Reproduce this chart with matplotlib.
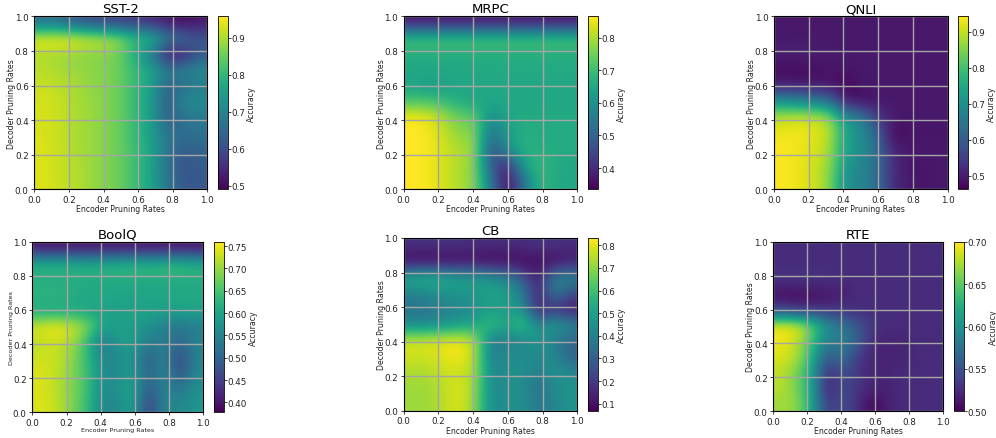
import numpy as np
import matplotlib
matplotlib.use("Agg")
import matplotlib.pyplot as plt

W, H = 996, 439

# accuracy grids, 11 x 11 cells filling the 0-1 box. rows run from the top of the plot down
sst2 = [
    [.66, .66, .62, .60, .58, .58, .56, .55, .52, .50, .52],
    [.95, .955, .955, .93, .92, .88, .82, .80, .70, .66, .62],
    [.90, .89, .88, .87, .87, .85, .76, .68, .50, .52, .62],
    [.91, .90, .89, .88, .87, .85, .81, .76, .70, .70, .72],
    [.92, .91, .90, .88, .87, .85, .80, .75, .62, .66, .68],
    [.93, .92, .90, .89, .87, .85, .80, .75, .62, .72, .72],
    [.93, .92, .90, .89, .87, .85, .80, .75, .62, .66, .68],
    [.93, .92, .90, .89, .87, .85, .80, .75, .67, .66, .67],
    [.935, .92, .90, .89, .87, .85, .81, .76, .67, .63, .64],
    [.935, .92, .91, .89, .87, .85, .81, .76, .66, .60, .63],
    [.935, .92, .91, .89, .87, .85, .81, .76, .67, .62, .62],
]
mrpc = [
    [.37, .37, .37, .37, .37, .37, .37, .37, .37, .37, .37],
    [.72, .72, .72, .72, .72, .72, .72, .72, .72, .72, .72],
    [.66, .66, .66, .66, .66, .66, .66, .66, .66, .66, .66],
    [.655, .655, .655, .655, .655, .66, .66, .66, .66, .66, .66],
    [.64, .62, .63, .65, .65, .65, .65, .65, .65, .65, .65],
    [.72, .72, .70, .66, .65, .65, .65, .65, .65, .65, .65],
    [.865, .85, .80, .75, .74, .58, .65, .66, .66, .66, .66],
    [.865, .86, .82, .77, .77, .52, .62, .67, .66, .66, .66],
    [.865, .86, .83, .80, .79, .45, .60, .68, .66, .66, .66],
    [.865, .86, .83, .80, .77, .48, .38, .62, .70, .66, .65],
    [.865, .86, .83, .80, .77, .55, .335, .52, .68, .66, .65],
]
qnli = [
    [.495, .495, .495, .495, .495, .495, .495, .495, .495, .495, .495],
    [.495, .495, .495, .495, .495, .495, .495, .495, .495, .495, .495],
    [.505, .505, .50, .50, .495, .495, .495, .495, .495, .495, .495],
    [.475, .475, .48, .485, .49, .495, .495, .495, .495, .495, .495],
    [.50, .50, .49, .49, .465, .49, .495, .495, .495, .495, .495],
    [.72, .70, .68, .65, .50, .48, .49, .495, .495, .495, .495],
    [.90, .91, .91, .88, .72, .68, .55, .50, .49, .495, .495],
    [.93, .94, .92, .90, .74, .70, .62, .465, .485, .49, .49],
    [.94, .93, .92, .88, .74, .70, .64, .51, .495, .495, .495],
    [.94, .93, .91, .87, .72, .68, .64, .52, .49, .49, .495],
    [.94, .93, .91, .86, .70, .68, .64, .52, .495, .49, .495],
]
boolq = [
    [.40, .40, .40, .40, .40, .40, .40, .40, .40, .40, .40],
    [.63, .63, .63, .62, .63, .63, .64, .63, .645, .645, .63],
    [.61, .61, .61, .61, .61, .61, .61, .61, .61, .61, .61],
    [.63, .63, .62, .61, .61, .60, .60, .60, .60, .61, .61],
    [.60, .60, .60, .60, .595, .59, .60, .60, .60, .60, .60],
    [.74, .76, .74, .70, .60, .60, .59, .57, .54, .52, .54],
    [.72, .73, .71, .64, .52, .58, .60, .53, .55, .50, .55],
    [.73, .73, .70, .64, .55, .56, .58, .48, .56, .45, .55],
    [.74, .73, .69, .65, .56, .56, .59, .49, .57, .46, .56],
    [.74, .72, .69, .65, .56, .57, .61, .47, .56, .52, .57],
    [.74, .73, .69, .64, .55, .56, .60, .44, .56, .55, .58],
]
cb = [
    [.18, .18, .18, .18, .17, .17, .17, .17, .18, .18, .17],
    [.07, .07, .07, .07, .08, .07, .07, .08, .09, .09, .12],
    [.55, .58, .55, .50, .50, .45, .40, .28, .10, .40, .42],
    [.40, .42, .46, .46, .48, .52, .50, .40, .12, .42, .25],
    [.36, .36, .40, .42, .45, .48, .48, .45, .12, .15, .10],
    [.42, .42, .45, .48, .50, .62, .50, .65, .40, .52, .42],
    [.78, .79, .80, .82, .75, .38, .40, .40, .50, .38, .32],
    [.78, .77, .80, .83, .75, .38, .44, .44, .42, .44, .30],
    [.74, .74, .77, .77, .74, .40, .45, .45, .40, .46, .42],
    [.72, .72, .75, .80, .72, .42, .45, .45, .34, .44, .47],
    [.72, .72, .75, .80, .70, .42, .45, .45, .37, .42, .46],
]
rte = [
    [.525, .525, .525, .525, .525, .525, .525, .525, .525, .525, .525],
    [.525, .525, .525, .525, .525, .525, .525, .525, .525, .525, .525],
    [.53, .53, .53, .53, .525, .525, .525, .525, .525, .525, .525],
    [.505, .505, .505, .51, .515, .525, .525, .525, .525, .525, .525],
    [.54, .53, .53, .53, .53, .525, .525, .525, .525, .525, .525],
    [.70, .70, .66, .60, .58, .555, .53, .525, .525, .525, .525],
    [.695, .68, .64, .58, .59, .56, .52, .52, .52, .525, .525],
    [.69, .68, .63, .55, .58, .53, .52, .52, .52, .525, .525],
    [.68, .66, .62, .52, .55, .53, .52, .52, .525, .525, .525],
    [.68, .66, .62, .51, .55, .53, .52, .52, .525, .525, .525],
    [.67, .67, .62, .53, .55, .525, .50, .52, .525, .525, .525],
]

titles = ["SST-2", "MRPC", "QNLI", "BoolQ", "CB", "RTE"]
grids = [sst2, mrpc, qnli, boolq, cb, rte]
vmins = [.491, .335, .462, .378, .069, .50]
vmaxs = [.958, .865, .943, .76, .832, .70]
cbar_ticks = [
    [.5, .6, .7, .8, .9],
    [.4, .5, .6, .7, .8],
    [.5, .6, .7, .8, .9],
    [.40, .45, .50, .55, .60, .65, .70, .75],
    [.1, .2, .3, .4, .5, .6, .7, .8],
    [.50, .55, .60, .65, .70],
]
cbar_fmt = ["%.1f", "%.1f", "%.1f", "%.2f", "%.1f", "%.2f"]
ticks = [0.0, 0.2, 0.4, 0.6, 0.8, 1.0]

# axes boxes in pixels: left, right, top, bottom, colorbar left
boxes = [
    (34.3, 207.3, 17.3, 190.3, 218.3),
    (403.7, 577.3, 17.3, 190.3, 588.3),
    (774.0, 947.7, 17.3, 190.3, 958.3),
    (32.3, 203.3, 242.7, 413.3, 214.3),
    (403.7, 577.3, 239.0, 411.7, 588.3),
    (773.3, 943.3, 242.7, 412.3, 954.3),
]


def px_axes(fig, l, r, t, b):
    return fig.add_axes([l / W, 1 - b / H, (r - l) / W, (b - t) / H])


fig = plt.figure(figsize=(W / 100, H / 100), dpi=100)

for i, name in enumerate(titles):
    l, r, t, b, cl = boxes[i]
    ax = px_axes(fig, l, r, t, b)
    im = ax.imshow(np.array(grids[i]), cmap="viridis", vmin=vmins[i], vmax=vmaxs[i],
                   extent=[0, 1, 0, 1], origin="upper",
                   interpolation="bicubic", aspect="auto")
    ax.set_xlim(0, 1)
    ax.set_ylim(0, 1)
    ax.set_xticks(ticks)
    ax.set_yticks(ticks)
    ax.tick_params(labelsize=6.3, length=2.5, width=0.6, pad=1.5, colors="#222222")
    ax.grid(True, color="#a6a6a6", lw=1.0)
    label_size = 4.6 if name == "BoolQ" else 5.6
    ax.set_xlabel("Encoder Pruning Rates", fontsize=label_size, labelpad=0.3, color="#222222")
    ax.set_ylabel("Decoder Pruning Rates", fontsize=label_size, labelpad=-1, color="#222222")
    ax.set_title(name, fontsize=9.5, pad=3)

    cax = px_axes(fig, cl, cl + 9.4, t, b)
    cbar = fig.colorbar(im, cax=cax, ticks=cbar_ticks[i], format=cbar_fmt[i])
    cbar.ax.tick_params(labelsize=6.3, length=2.0, width=0.6, pad=0.5, colors="#222222")
    cbar.set_label("Accuracy", fontsize=5.6, labelpad=1.5, color="#222222")
    cbar.outline.set_linewidth(0.6)

fig.savefig("out.png", dpi=100)
